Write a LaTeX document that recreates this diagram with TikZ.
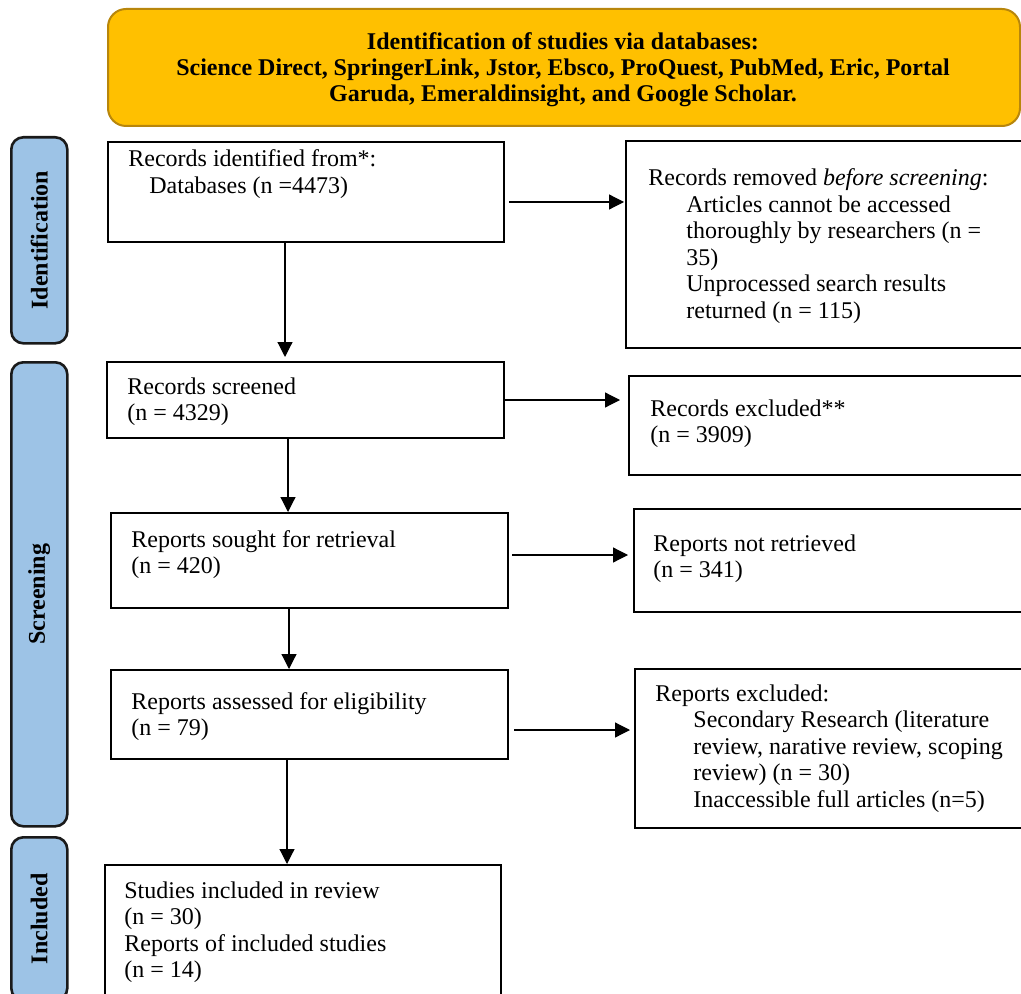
\documentclass[tikz,border=0pt]{standalone}
\usepackage{fontspec}
\setmainfont{Liberation Serif}
\usepackage{tikz}
\usetikzlibrary{positioning, arrows.meta}
\definecolor{bannerFill}{HTML}{FFC000}
\definecolor{bannerLine}{HTML}{B8860B}
\definecolor{phaseFill}{HTML}{9DC3E6}
\definecolor{phaseLine}{HTML}{1A1A1A}
\tikzset{
  banner/.style={draw=bannerLine, line width=1pt, fill=bannerFill, rounded corners=9pt,
    anchor=north west, inner sep=0pt},
  bannertext/.style={font=\bfseries\fontsize{12}{13}\selectfont, align=center, inner sep=0pt, anchor=base},
  phase/.style={draw=phaseLine, line width=1.3pt, fill=phaseFill, rounded corners=6pt,
    anchor=north west, minimum width=28pt, inner sep=0pt},
  phasename/.style={font=\bfseries\fontsize{12}{13}\selectfont, rotate=90, inner sep=0pt},
}
% text nodes sit on the baseline of their last line
\tikzset{
  flowbox/.style={draw=black, line width=1pt, anchor=north west, inner sep=0pt},
  flowtext/.style={font=\fontsize{12}{13.25}\selectfont, align=left, inner sep=0pt, anchor=base west},
  flowarrow/.style={-{Triangle[length=7.5pt, width=7.5pt]}, line width=0.6pt},
}
\newcommand{\ind}{\hspace*{19pt}}

\begin{document}
\begin{tikzpicture}[x=0.5pt, y=-0.5pt]
  \useasboundingbox (0,0) rectangle (1021,994);
  \clip (0,0) rectangle (1021,994);
  % banner
  \node[banner, minimum width=456pt, minimum height=58.5pt] (dbbanner) at (107,8) {};
  \node[bannertext] (dbtext) at (563,102) {Identification of studies via databases:\\
    Science Direct, SpringerLink, Jstor, Ebsco, ProQuest, PubMed, Eric, Portal\\
    Garuda, Emeraldinsight, and Google Scholar.};
  % phases
  \node[phase, minimum height=103pt] (idphase) at (10,136) {};
  \node[phase, minimum height=232pt] (scrphase) at (10,361) {};
  \node[phase, minimum height=81.5pt] (incphase) at (10,836) {};
  \node[phasename] (idname) at (idphase.center) {Identification};
  \node[phasename] (scrname) at (scrphase.center) {Screening};
  \node[phasename] (incname) at (incphase.center) {Included};
  % main column
  \node[flowbox, minimum width=198pt, minimum height=50pt] (identified) at (107,141) {};
  \node[flowtext] (identifiedtext) at (128,193.5) {Records identified from*:\\ \hspace*{10.5pt}Databases (n =4473)};
  \node[flowbox, minimum width=198.5pt, minimum height=38pt] (screened) at (106,361) {};
  \node[flowtext] (screenedtext) at (127,420.5) {Records screened\\(n = 4329)};
  \node[flowbox, minimum width=198.5pt, minimum height=47.5pt] (sought) at (110,512) {};
  \node[flowtext] (soughttext) at (131,573.5) {Reports sought for retrieval\\(n = 420)};
  \node[flowbox, minimum width=198.5pt, minimum height=44.5pt] (assessed) at (110,669) {};
  \node[flowtext] (assessedtext) at (131,735.5) {Reports assessed for eligibility\\(n = 79)};
  \node[flowbox, minimum width=198pt, minimum height=70.5pt] (included) at (104,864) {};
  \node[flowtext] (includedtext) at (124,977.5) {Studies included in review\\(n = 30)\\
    Reports of included studies\\(n = 14)};
  % side column
  \node[flowbox, minimum width=202pt, minimum height=103.5pt] (removed) at (625,140) {};
  \node[flowtext] (removedtext) at (648,318.5) {Records removed \textit{before screening}:\\
    \ind Articles cannot be accessed\\ \ind thoroughly by researchers (n =\\ \ind 35)\\
    \ind Unprocessed search results\\ \ind returned (n = 115)};
  \node[flowbox, minimum width=201pt, minimum height=49.5pt] (excluded) at (628,375) {};
  \node[flowtext] (excludedtext) at (650,442.5) {Records excluded**\\(n = 3909)};
  \node[flowbox, minimum width=199pt, minimum height=51.5pt] (notretrieved) at (633,508) {};
  \node[flowtext] (notretrievedtext) at (653,577.5) {Reports not retrieved\\(n = 341)};
  \node[flowbox, minimum width=198pt, minimum height=79.5pt] (repexcluded) at (634,668) {};
  \node[flowtext] (repexcludedtext) at (655,807) {Reports excluded:\\
    \ind Secondary Research (literature\\ \ind review, narative review, scoping\\
    \ind review) (n = 30)\\ \ind Inaccessible full articles (n=5)};
  % arrow starts
  \coordinate (removedfrom) at ([shift={(2pt,-5pt)}]identified.east);
  \coordinate (retrievefrom) at ([shift={(1.5pt,2.75pt)}]sought.east);
  \coordinate (eligiblefrom) at ([shift={(2.5pt,-7.75pt)}]assessed.east);
  % arrows down
  \draw[flowarrow, shorten >=2pt] ([xshift=-10.5pt]identified.south) -- ([xshift=-10.5pt]identified.south |- screened.north);
  \draw[flowarrow] ([xshift=-8.75pt]screened.south) -- ([xshift=-8.75pt]screened.south |- sought.north);
  \draw[flowarrow] ([xshift=-10.25pt]sought.south) -- ([xshift=-10.25pt]sought.south |- assessed.north);
  \draw[flowarrow] ([xshift=-11.25pt]assessed.south) -- ([xshift=-11.25pt]assessed.south |- included.north);
  % arrows across
  \draw[flowarrow, shorten >=0.5pt] (removedfrom) -- (removed.west |- removedfrom);
  \draw[flowarrow, shorten >=4pt] (screened.east) -- (excluded.west |- screened.east);
  \draw[flowarrow, shorten >=2.5pt] (retrievefrom) -- (notretrieved.west |- retrievefrom);
  \draw[flowarrow, shorten >=2pt] (eligiblefrom) -- (repexcluded.west |- eligiblefrom);
\end{tikzpicture}
\end{document}
